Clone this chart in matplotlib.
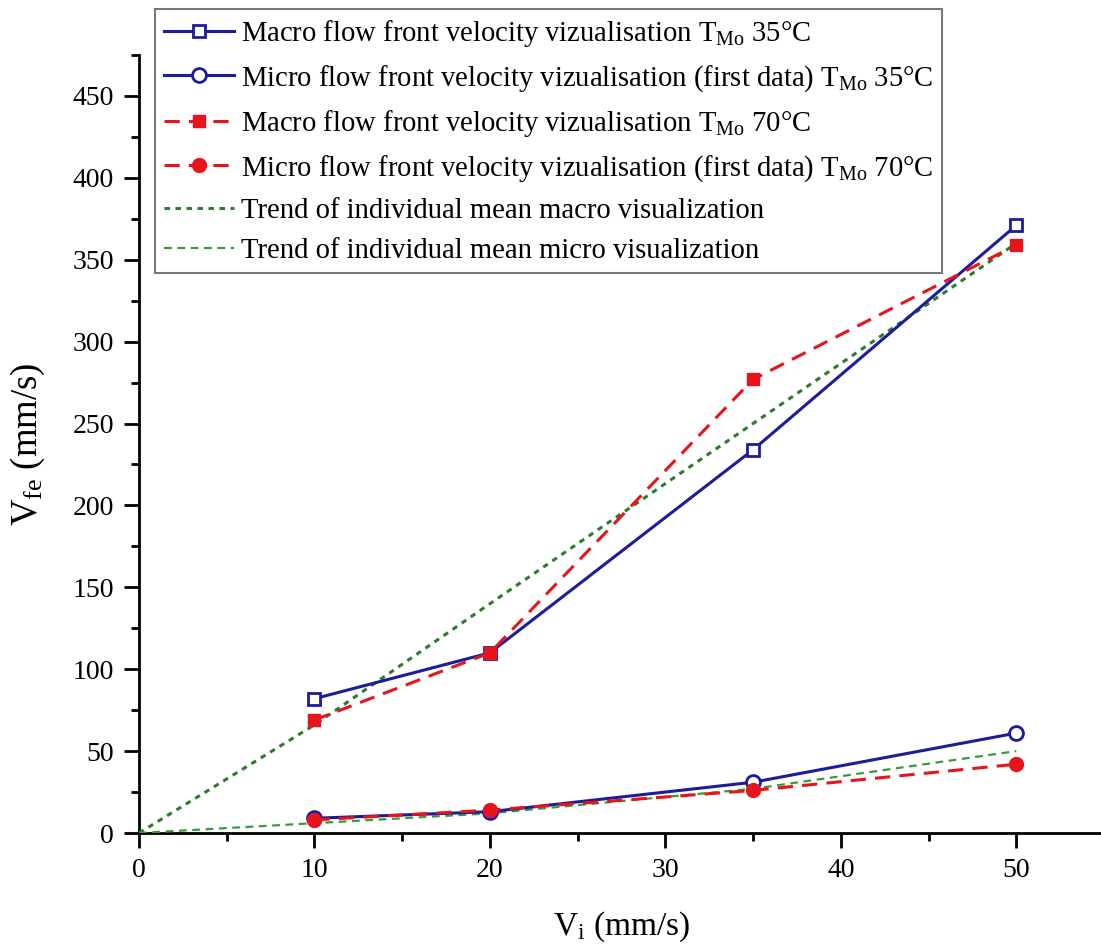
import matplotlib
matplotlib.use("Agg")
import matplotlib.pyplot as plt
from matplotlib.ticker import MultipleLocator

plt.rcParams['font.family'] = ['Liberation Serif', 'DejaVu Serif']
plt.rcParams['mathtext.fontset'] = 'custom'
plt.rcParams['mathtext.rm'] = 'Liberation Serif'
plt.rcParams['mathtext.it'] = 'Liberation Serif:italic'

x_pts = [10, 20, 35, 50]
macro_35 = [82, 110, 234, 371]
micro_35 = [9, 13, 31, 61]
macro_70 = [69, 110, 277, 359]
micro_70 = [8, 14, 26, 42]
trend_x = [0, 10, 20, 35, 50]
trend_macro = [0, 66, 140, 250, 360]
trend_micro = [0, 6, 12, 27, 50]

labels = [
    r"Macro flow front velocity vizualisation T$_{\rm Mo}$ 35°C",
    r"Micro flow front velocity vizualisation (first data) T$_{\rm Mo}$ 35°C",
    r"Macro flow front velocity vizualisation T$_{\rm Mo}$ 70°C",
    r"Micro flow front velocity vizualisation (first data) T$_{\rm Mo}$ 70°C",
    "Trend of individual mean macro visualization",
    "Trend of individual mean micro visualization",
]

blue = '#1c1c9c'
red = '#e8141c'
green_d = '#2f7a2f'
green_l = '#3a9a3a'

W, H = 1101, 946
fig = plt.figure(figsize=(W / 100, H / 100), dpi=100)
ax = fig.add_axes([139 / W, 1 - 833 / H, 965 / W, 778 / H])

ax.plot(x_pts, macro_35, color=blue, lw=2.2, marker='s', ms=9, mfc='white', mec=blue, mew=2, label=labels[0], zorder=4)
ax.plot(x_pts, micro_35, color=blue, lw=2.2, marker='o', ms=10, mfc='white', mec=blue, mew=2, label=labels[1], zorder=4)
ax.plot(x_pts, macro_70, color=red, lw=2.2, dashes=(5, 3), marker='s', ms=9, mfc=red, mec=red, label=labels[2], zorder=5)
ax.plot(x_pts, micro_70, color=red, lw=2.2, dashes=(5, 3), marker='o', ms=10, mfc=red, mec=red, label=labels[3], zorder=5)
ax.plot(trend_x, trend_macro, color=green_d, lw=2.2, dashes=(1.8, 1.8), label=labels[4], zorder=3)
ax.plot(trend_x, trend_micro, color=green_l, lw=1.6, dashes=(3.5, 2.5), label=labels[5], zorder=3)

ax.set_xlim(0, 55)
ax.set_ylim(0, 475)
ax.xaxis.set_major_locator(MultipleLocator(10))
ax.xaxis.set_minor_locator(MultipleLocator(5))
ax.yaxis.set_major_locator(MultipleLocator(50))
ax.yaxis.set_minor_locator(MultipleLocator(25))
ax.spines['top'].set_visible(False)
ax.spines['right'].set_visible(False)
for s in ['left', 'bottom']:
    ax.spines[s].set_linewidth(2)
ax.tick_params(which='major', direction='out', length=11, width=2, labelsize=20, pad=7)
ax.tick_params(which='minor', direction='out', length=6, width=2)

ax.set_xlabel(r"V$_{\rm i}$ (mm/s)", fontsize=24)
ax.set_ylabel(r"V$_{\rm fe}$ (mm/s)", fontsize=26.5)
ax.xaxis.set_label_coords(0.5, -0.098)
ax.yaxis.set_label_coords(-0.095, 0.5)

leg = ax.legend(loc='upper left', bbox_to_anchor=(155 / W, 1 - 9 / H), bbox_transform=fig.transFigure,
                fontsize=20.6, handlelength=2.45, handletextpad=0.25, labelspacing=0.5,
                borderpad=0.3, borderaxespad=0, frameon=True, fancybox=False)
leg.get_frame().set_edgecolor('#555555')
leg.get_frame().set_linewidth(1.5)

fig.savefig('out.png', dpi=100)
